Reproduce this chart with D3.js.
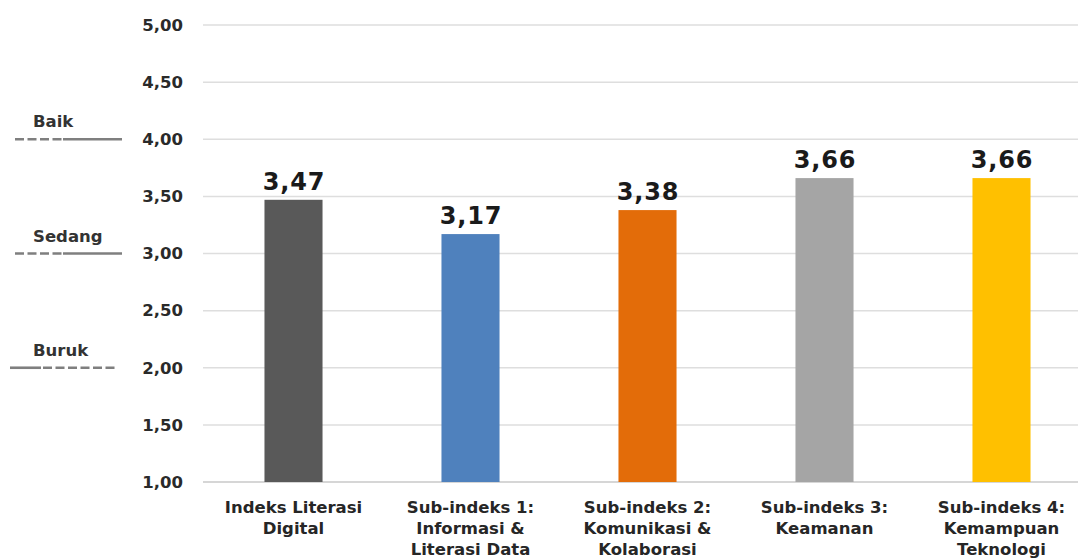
<!DOCTYPE html>
<html><head><meta charset="utf-8">
<script src="https://cdn.jsdelivr.net/npm/d3@7"></script>
<style>
body{margin:0;background:#fff;}
svg{display:block;}
</style></head><body>
<svg id="c" width="1078" height="560"></svg>
<script>
const categories = [
  ["Indeks Literasi","Digital"],
  ["Sub-indeks 1:","Informasi &","Literasi Data"],
  ["Sub-indeks 2:","Komunikasi &","Kolaborasi"],
  ["Sub-indeks 3:","Keamanan"],
  ["Sub-indeks 4:","Kemampuan","Teknologi"]
];
const values = [3.47, 3.17, 3.38, 3.66, 3.66];
const barColors = ["#595959","#4f81bd","#e36c09","#a5a5a5","#ffc000"];
const yTicks = [1,1.5,2,2.5,3,3.5,4,4.5,5];
const levels = [
  {label:"Baik", value:4, dashFirst:true},
  {label:"Sedang", value:3, dashFirst:true},
  {label:"Buruk", value:2, dashFirst:false}
];

(function(){
const svg = d3.select("#c");
const mLeft = 205, mRight = 1090, mTop = 25, mBottom = 482;
const x = d3.scaleBand().domain(d3.range(categories.length)).range([mLeft,mRight]).paddingInner(0.672).paddingOuter(0.336);
const y = d3.scaleLinear().domain([1,5]).range([mBottom,mTop]);
const fmt = v => d3.format(".2f")(v).replace(".",",");
const font = "'DejaVu Sans', Verdana, sans-serif";

// gridlines
svg.append("g").selectAll("line").data(yTicks).join("line")
  .attr("x1",mLeft-2).attr("x2",1078)
  .attr("y1",d=>y(d)).attr("y2",d=>y(d))
  .attr("stroke",d=>d===1?"#c8c8c8":"#dedede").attr("stroke-width",1.5);

// y axis labels
const yAxis = d3.axisLeft(y).tickValues(yTicks).tickFormat(fmt).tickSize(0).tickPadding(0);
const ga = svg.append("g").attr("transform",`translate(${mLeft-22},0)`).call(yAxis);
ga.select(".domain").remove();
ga.selectAll("text").attr("font-family",font).attr("font-size",16.5).attr("font-weight","bold").attr("fill","#2a2a2a");

// bars
svg.append("g").selectAll("rect").data(values).join("rect")
  .attr("x",(d,i)=>x(i)).attr("width",x.bandwidth())
  .attr("y",d=>y(d)).attr("height",d=>y(1)-y(d))
  .attr("fill",(d,i)=>barColors[i]);

// value labels
svg.append("g").selectAll("text").data(values).join("text")
  .attr("x",(d,i)=>x(i)+x.bandwidth()/2+0.5).attr("y",d=>y(d)-10)
  .attr("text-anchor","middle").attr("font-family",font).attr("font-size",24).attr("font-weight","bold")
  .attr("letter-spacing",0.8).attr("fill","#1a1a1a").text(fmt);

// category labels
const gc = svg.append("g");
categories.forEach((lines,i)=>{
  const t = gc.append("text").attr("text-anchor","middle").attr("font-family",font)
    .attr("font-size",16.5).attr("font-weight","bold").attr("fill","#262626");
  lines.forEach((l,j)=>t.append("tspan").attr("x",x(i)+x.bandwidth()/2).attr("y",513+j*21).text(l));
});

// level markers on left
const gl = svg.append("g");
levels.forEach(lv=>{
  const yy = y(lv.value);
  const x0 = lv.dashFirst?15:10, x1 = lv.dashFirst?122:118;
  const mid = lv.dashFirst?63:41;
  const a = gl.append("line").attr("x1",x0).attr("x2",mid).attr("y1",yy).attr("y2",yy)
      .attr("stroke","#7f7f7f").attr("stroke-width",2.6);
  const b = gl.append("line").attr("x1",mid).attr("x2",x1).attr("y1",yy).attr("y2",yy)
      .attr("stroke","#7f7f7f").attr("stroke-width",2.6);
  (lv.dashFirst?a:b).attr("stroke-dasharray","9,3.5");
  if(!lv.dashFirst) b.attr("stroke-dashoffset",-2);
  gl.append("text").attr("x",33).attr("y",yy-12)
    .attr("font-family",font).attr("font-size",16.5).attr("font-weight","bold").attr("fill","#333").text(lv.label);
});
})();
</script>
</body></html>
